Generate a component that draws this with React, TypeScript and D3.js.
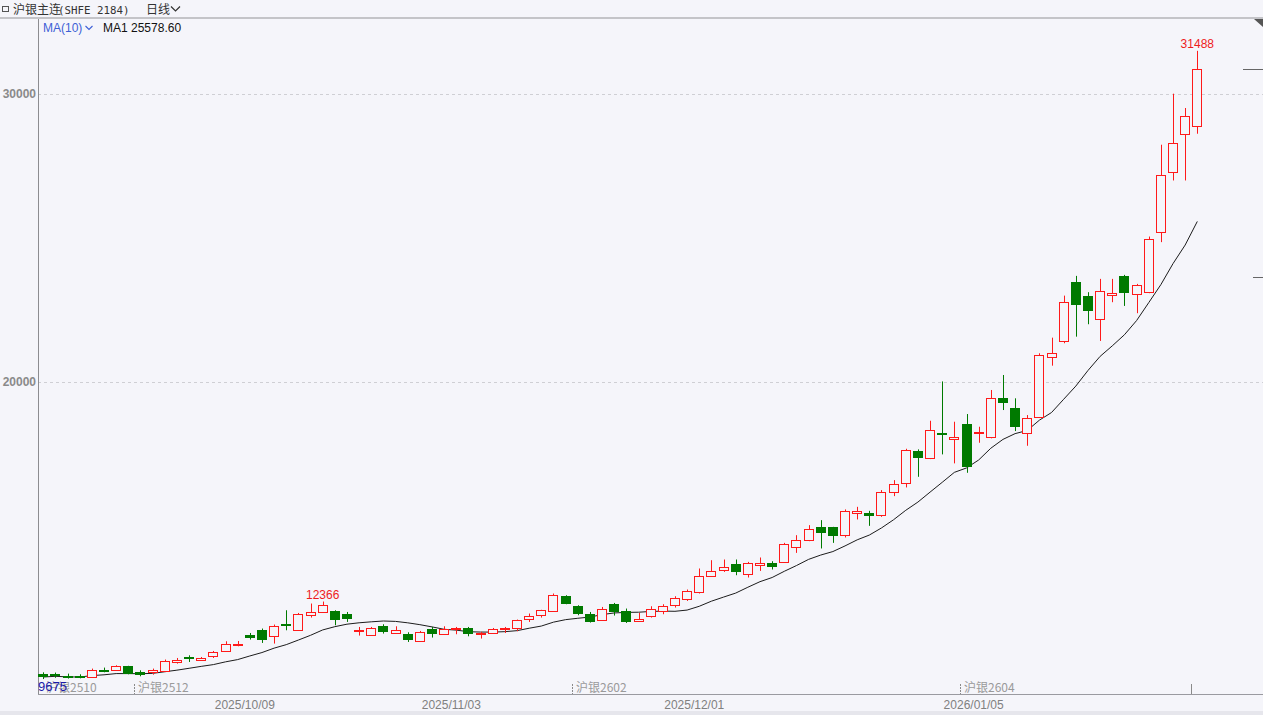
import React from 'react';
import * as d3 from 'd3';

// ---- Data (沪银主连 daily, index 0 = first visible trading day) ----
const opens = [
  9864, 9850, 9795, 9771, 9746, 10003, 9990, 10118, 9909, 9909,
  9955, 10258, 10441, 10351, 10476, 10639, 10848, 11195, 11393, 11160,
  11578, 11393, 11915, 12005, 12040, 11950, 11345, 11220, 11508, 11275,
  11254, 10997, 11429, 11231, 11404, 11449, 11231, 11289, 11404, 11449,
  11776, 11891, 12040, 12551, 12203, 11950, 11717, 12273, 12040, 11692,
  11856, 12040, 12238, 12471, 12701, 13257, 13455, 13664, 13340, 13628,
  13708, 13743, 14265, 14498, 14960, 14939, 14671, 15426, 15446, 15356,
  16156, 16468, 17602, 17358, 18227, 17998, 18519, 18206, 18088, 19423,
  19096, 18206, 18783, 20869, 21415, 23476, 22979, 22169, 23024, 23674,
  23038, 23128, 25214, 27279, 28600, 28864,
];
const highs = [
  9909, 9900, 9864, 9840, 10038, 10073, 10153, 10135, 9979, 10038,
  10352, 10407, 10500, 10441, 10650, 10987, 10997, 11275, 11429, 11567,
  12064, 11970, 12297, 12366, 12064, 12005, 11484, 11484, 11578, 11508,
  11300, 11345, 11484, 11508, 11484, 11484, 11310, 11449, 11484, 11741,
  11950, 12080, 12645, 12586, 12238, 12005, 12179, 12318, 12123, 11970,
  12203, 12273, 12551, 12784, 13514, 13802, 13826, 13826, 13743, 13896,
  13767, 14404, 14671, 15019, 15193, 14960, 15565, 15655, 15516, 16236,
  16583, 17671, 17650, 18644, 20010, 18610, 18877, 18436, 19712, 20233,
  19423, 18842, 20987, 21529, 22989, 23674, 23108, 23570, 23570, 23709,
  23396, 25040, 28228, 30000, 29503, 31488,
];
const lows = [
  9675, 9720, 9692, 9700, 9740, 9910, 9980, 9840, 9771, 9829,
  9950, 10211, 10268, 10303, 10407, 10630, 10813, 11046, 10929, 10907,
  11369, 11369, 11810, 11984, 11543, 11658, 11185, 11210, 11254, 11260,
  10963, 10987, 11116, 11220, 11231, 11160, 11081, 11254, 11275, 11335,
  11658, 11810, 12005, 12273, 11891, 11637, 11700, 11880, 11623, 11658,
  11810, 11926, 12158, 12388, 12645, 13246, 13396, 13281, 13201, 13430,
  13479, 13708, 14056, 14463, 14209, 14404, 14591, 15217, 14995, 15307,
  16027, 16329, 16698, 17313, 17476, 17164, 16837, 17880, 18033, 19016,
  18286, 17775, 18738, 20556, 21335, 21564, 21995, 21415, 22760, 22631,
  22378, 23073, 24846, 26987, 26987, 28610,
];
const closes = [
  9746, 9795, 9712, 9725, 10003, 9955, 10118, 9864, 9829, 9979,
  10303, 10351, 10361, 10396, 10615, 10907, 10907, 11116, 11021, 11508,
  11519, 11950, 12005, 12262, 11741, 11776, 11393, 11449, 11310, 11369,
  11021, 11310, 11231, 11429, 11449, 11231, 11275, 11429, 11463, 11717,
  11867, 12064, 12586, 12297, 11926, 11658, 12123, 12005, 11658, 11776,
  12123, 12203, 12506, 12725, 13246, 13420, 13549, 13396, 13688, 13708,
  13569, 14359, 14498, 14869, 14751, 14637, 15506, 15506, 15342, 16177,
  16434, 17626, 17358, 18321, 18158, 18088, 17045, 18262, 19423, 19249,
  18436, 18728, 20928, 20987, 22760, 22666, 22458, 23163, 23073, 23094,
  23361, 24950, 27185, 28287, 29212, 30869,
];

const yTicks = [20000, 30000];
const dateTicks = [
  { i: 17, label: '2025/10/09' },
  { i: 34, label: '2025/11/03' },
  { i: 54, label: '2025/12/01' },
  { i: 77, label: '2026/01/05' },
];
const contractRolls = [
  { i: 0, label: '沪银2510' },
  { i: 8, label: '沪银2512' },
  { i: 44, label: '沪银2602' },
  { i: 76, label: '沪银2604' },
  { i: 95, label: '' },
];
const maPeriod = 10;
const titleText = '沪银主连';
const codeText = '(SHFE 2184)';
const periodText = '日线';
const maName = 'MA(10)';
const maValueText = 'MA1 25578.60';
const refLevel = 23640;

const BG = '#f5f5fa';
const UP = '#ff1a1a';
const DOWN = '#007a00';
const SANS = '"Liberation Sans", Arial, "Noto Sans CJK SC", sans-serif';
const CJK = '"Noto Sans CJK SC", "Liberation Sans", sans-serif';

export default function App() {
  const W = 1263;
  const H = 715;
  const left = 38;
  const bottom = 694;
  const top = 19;

  const x = d3.scaleLinear().domain([0, closes.length - 1]).range([43.3, 1197.3]);
  const y = d3.scaleLinear().domain([20000, 30000]).range([381.7, 93.7]);
  const step = x(1) - x(0);

  const ma = closes.map((_, i) => {
    const s = Math.max(0, i - maPeriod + 1);
    return d3.mean(closes.slice(s, i + 1)) as number;
  });
  const maPath = d3
    .line<number>()
    .x((_, i) => x(i))
    .y((d) => y(d))(ma) as string;

  const hiIdx = d3.maxIndex(highs);
  const loIdx = d3.minIndex(lows);
  const lastClose = closes[closes.length - 1];

  return (
    <div style={{ position: 'fixed', left: 0, top: 0, width: W, height: H, background: BG }}>
      <svg width={W} height={H} style={{ display: 'block' }}>
        <rect x={0} y={0} width={W} height={H} fill={BG} />
        {/* header */}
        <rect x={2.5} y={6.5} width={6} height={5} fill="none" stroke="#555" strokeWidth={1} />
        <text x={13} y={14} fontFamily={CJK} fontSize={12} fill="#333">{titleText}</text>
        <text x={58} y={14} fontFamily='"DejaVu Sans Mono", monospace' fontSize={10.8} fill="#333">{codeText}</text>
        <text x={146} y={14} fontFamily={CJK} fontSize={12} fill="#333">{periodText}</text>
        <path d="M171,6.5 L175.5,11 L180,6.5" fill="none" stroke="#333" strokeWidth={1.2} />
        <line x1={0} x2={W} y1={18} y2={18} stroke="#c4c4c8" strokeWidth={2} />
        <path d="M1254,19 L1263,19 L1263,27 Z" fill="#555" />

        {/* MA legend */}
        <text x={43} y={31.5} fontFamily={SANS} fontSize={12} fill="#3d5fd6">{maName}</text>
        <path d="M85.5,26 L89,29.5 L92.5,26" fill="none" stroke="#3d5fd6" strokeWidth={1.1} />
        <text x={103} y={31.5} fontFamily={SANS} fontSize={12} fill="#111">{maValueText}</text>

        {/* grid + y labels */}
        {yTicks.map((t) => (
          <g key={t}>
            <line x1={left} x2={W} y1={Math.round(y(t)) + 0.5} y2={Math.round(y(t)) + 0.5} stroke="#cfcfd4" strokeDasharray="3,3" />
            <text x={36} y={y(t) + 4} textAnchor="end" fontFamily={SANS} fontSize={12} fontWeight="bold" fill="#8a8a8a">{t}</text>
          </g>
        ))}

        {/* axes */}
        <line x1={left + 0.5} x2={left + 0.5} y1={top} y2={bottom} stroke="#8c8c90" />
        <line x1={left} x2={W} y1={bottom + 0.5} y2={bottom + 0.5} stroke="#9a9aa0" />
        <rect x={0} y={711} width={W} height={4} fill="#e6e6ec" />

        {/* right markers */}
        <line x1={1243} x2={W} y1={Math.round(y(lastClose)) + 0.5} y2={Math.round(y(lastClose)) + 0.5} stroke="#666" />
        <line x1={1253} x2={W} y1={Math.round(y(refLevel)) + 0.5} y2={Math.round(y(refLevel)) + 0.5} stroke="#666" />

        {/* contract roll labels */}
        {contractRolls.map((r) => {
          const tx = Math.round(x(r.i) - step / 2) + 0.5;
          return (
            <g key={r.i}>
              {r.i > 0 && (
                <line x1={tx} x2={tx} y1={684} y2={694} stroke="#8a8a8a" strokeDasharray={r.label ? '2,1' : undefined} />
              )}
              {r.label && (
                <text x={Math.max(tx + 3.5, 46)} y={692} fontFamily={CJK} fontSize={12} fill="#9a9a9a">{r.label}</text>
              )}
            </g>
          );
        })}

        {/* date labels */}
        {dateTicks.map((d) => (
          <text key={d.label} x={x(d.i) - 5} y={708.5} textAnchor="middle" fontFamily={SANS} fontSize={12} fill="#808080">{d.label}</text>
        ))}

        {/* MA line */}
        <path d={maPath} fill="none" stroke="#1c1c1c" strokeWidth={1} />

        {/* candles */}
        {closes.map((c, i) => {
          const o = opens[i];
          const cx = Math.round(x(i));
          const lx = cx + 0.5;
          const up = c >= o;
          const yo = y(o);
          const yc = y(c);
          const yh = y(highs[i]);
          const yl = y(lows[i]);
          if (up) {
            const t = Math.round(yc) + 0.5;
            const b = Math.max(Math.round(yo) + 0.5, t + 1);
            return (
              <g key={i}>
                <line x1={lx} x2={lx} y1={yh} y2={t} stroke={UP} />
                <line x1={lx} x2={lx} y1={b} y2={yl} stroke={UP} />
                <rect x={cx - 4.5} y={t} width={9} height={b - t} fill={BG} stroke={UP} />
              </g>
            );
          }
          const t = Math.round(yo);
          const hgt = Math.max(Math.round(yc) - t, 2);
          return (
            <g key={i}>
              <line x1={lx} x2={lx} y1={yh} y2={yl} stroke={DOWN} />
              <rect x={cx - 5} y={t} width={10} height={hgt} fill={DOWN} />
            </g>
          );
        })}

        {/* extreme labels */}
        <text x={x(hiIdx)} y={y(highs[hiIdx]) - 3} textAnchor="middle" fontFamily={SANS} fontSize={12} fill="#ee1c1c">{highs[hiIdx]}</text>
        {(() => {
          const i23 = 23;
          return (
            <text x={x(i23)} y={y(highs[i23]) - 3} textAnchor="middle" fontFamily={SANS} fontSize={12} fill="#ee1c1c">{highs[i23]}</text>
          );
        })()}
        <text x={Math.max(x(loIdx) - 13, 38)} y={y(lows[loIdx]) + 11.5} fontFamily={SANS} fontSize={13} fill="#1a1aa8">{lows[loIdx]}</text>
      </svg>
    </div>
  );
}
